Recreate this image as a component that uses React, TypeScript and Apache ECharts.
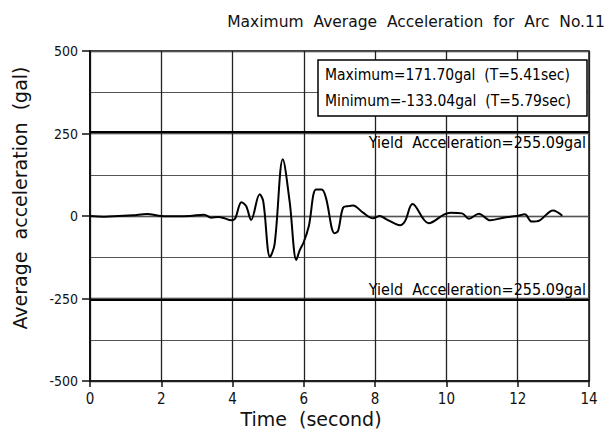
import React, { useEffect, useRef } from "react";
import * as echarts from "echarts";

const chartTitle = "Maximum  Average  Acceleration  for  Arc  No.11";
const xAxisTitle = "Time  (second)";
const yAxisTitle = "Average  acceleration  (gal)";
const maxText = "Maximum=171.70gal  (T=5.41sec)";
const minText = "Minimum=-133.04gal  (T=5.79sec)";
const yieldValue = 255.09;
const yieldText = "Yield  Acceleration=255.09gal";

const times = [
  0, 0.4, 0.8, 1.2, 1.6, 2.0, 2.4, 2.8, 3.2, 3.4, 3.6, 3.8, 3.95, 4.07, 4.25,
  4.38, 4.52, 4.76, 4.86, 5.05, 5.18, 5.41, 5.6, 5.79, 5.88, 6.0, 6.14, 6.34,
  6.5, 6.62, 6.86, 6.96, 7.1, 7.25, 7.38, 7.66, 7.94, 8.13, 8.32, 8.7, 8.84,
  9.05, 9.5, 9.94, 10.12, 10.44, 10.63, 10.91, 11.23, 11.6, 11.97, 12.2, 12.39,
  12.62, 12.99, 13.25,
];
const accel = [
  0, -2, 0, 2, 6, 0, -1, 0, 4, -5, -3, -8, -13, -8, 42, 30, -12, 66, 45, -124,
  -85, 171.7, 45, -133.04, -105, -78, -30, 80, 80, 55, -52, -45, 25, 30, 32, 10,
  -7, 0, -10, -28, -15, 36, -22, 5, 10, 8, -8, 7, -13, -5, 0, 5, -17, -13, 17,
  1,
];

const COND = '"DejaVu Sans Condensed", "Liberation Sans Narrow", "DejaVu Sans", sans-serif';
const ROUND = '"DejaVu Sans", Lato, sans-serif';

export default function App() {
  const ref = useRef<HTMLDivElement>(null);
  useEffect(() => {
    if (!ref.current) return;
    const chart = echarts.init(ref.current, null, { renderer: "svg" });
    const data = times.map((t, i) => [t, accel[i]]);
    chart.setOption({
      animation: false,
      backgroundColor: "#fff",
      grid: {
        left: 90,
        right: 23,
        top: 51,
        bottom: 51,
        show: true,
        borderColor: "#111",
        borderWidth: 1.5,
      },
      xAxis: {
        type: "value",
        min: 0,
        max: 14,
        interval: 2,
        axisLine: { show: true, onZero: false, lineStyle: { color: "#111", width: 1.5 } },
        axisTick: { show: true, length: 6, lineStyle: { color: "#111", width: 1.5 } },
        axisLabel: { color: "#111", fontSize: 15, margin: 10, fontFamily: COND },
        splitLine: { show: true, lineStyle: { color: "#222", width: 1.3 } },
      },
      yAxis: [
        {
          type: "value",
          min: -500,
          max: 500,
          interval: 250,
          axisLine: { show: true, onZero: false, lineStyle: { color: "#111", width: 2 } },
          axisTick: { show: true, length: 8, lineStyle: { color: "#111", width: 1.5 } },
          axisLabel: { color: "#111", fontSize: 14, margin: 12, fontFamily: COND },
          splitLine: { show: true, lineStyle: { color: "#222", width: 1.3 } },
        },
        {
          type: "value",
          min: -500,
          max: 500,
          interval: 125,
          axisLine: { show: false },
          axisTick: { show: false },
          axisLabel: { show: false },
          splitLine: { show: true, lineStyle: { color: "#555", width: 1 } },
        },
      ],
      series: [
        {
          type: "line",
          data,
          yAxisIndex: 0,
          symbol: "none",
          smooth: 0.35,
          lineStyle: { color: "#000", width: 2 },
          z: 5,
          markLine: {
            silent: true,
            symbol: "none",
            lineStyle: { color: "#000", width: 2.2, type: "solid" },
            label: {
              color: "#000",
              fontSize: 16,
              fontFamily: COND,
              formatter: yieldText,
              distance: 3,
            },
            data: [
              { yAxis: yieldValue, label: { position: "insideEndBottom" } },
              { yAxis: -yieldValue, label: { position: "insideEndTop" } },
            ],
          },
        },
      ],
      graphic: [
        {
          type: "text",
          x: 416,
          y: 22,
          style: {
            text: chartTitle,
            fontSize: 15.5,
            fontFamily: ROUND,
            fill: "#111",
            align: "center",
            verticalAlign: "middle",
          },
        },
        {
          type: "text",
          x: 20,
          y: 198,
          rotation: Math.PI / 2,
          style: {
            text: yAxisTitle,
            fontSize: 19,
            fontFamily: ROUND,
            fill: "#111",
            align: "center",
            verticalAlign: "middle",
          },
        },
        {
          type: "text",
          x: 311,
          y: 419,
          style: {
            text: xAxisTitle,
            fontSize: 19,
            fontFamily: ROUND,
            fill: "#111",
            align: "center",
            verticalAlign: "middle",
          },
        },
        {
          type: "group",
          z: 100,
          children: [
            {
              type: "rect",
              shape: { x: 318, y: 60, width: 269, height: 56 },
              style: { fill: "#fff", stroke: "#000", lineWidth: 1.5 },
              z: 100,
            },
            {
              type: "text",
              x: 325,
              y: 75,
              z: 101,
              style: {
                text: maxText,
                fontSize: 15.5,
                fontFamily: COND,
                fill: "#000",
                align: "left",
                verticalAlign: "middle",
              },
            },
            {
              type: "text",
              x: 325,
              y: 101,
              z: 101,
              style: {
                text: minText,
                fontSize: 15.5,
                fontFamily: COND,
                fill: "#000",
                align: "left",
                verticalAlign: "middle",
              },
            },
          ],
        },
      ],
    });
    return () => chart.dispose();
  }, []);
  return (
    <div
      ref={ref}
      style={{ position: "fixed", left: 0, top: 0, width: 612, height: 432 }}
    />
  );
}
